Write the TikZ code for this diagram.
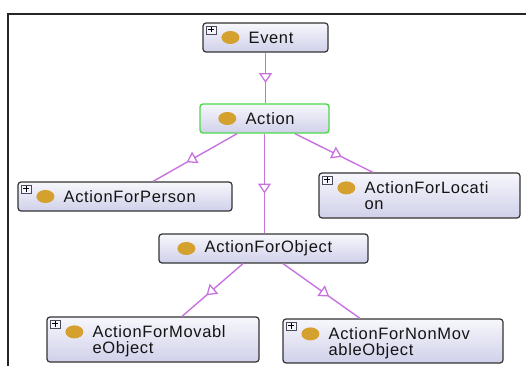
\documentclass[tikz,border=0pt]{standalone}
\usepackage{fontspec}
\setmainfont{Liberation Sans}[LetterSpace=4]
\usetikzlibrary{arrows.meta,decorations.markings,calc,shapes.geometric}
\definecolor{edgecol}{HTML}{C872E0}
\definecolor{boxborder}{HTML}{333333}
\definecolor{boxtop}{HTML}{F7F7FC}
\definecolor{boxbot}{HTML}{D0D0EA}
\definecolor{dotcol}{HTML}{D4A02E}
\definecolor{actgreen}{HTML}{4CD94C}
\definecolor{txtcol}{HTML}{141414}
\definecolor{plusborder}{HTML}{4A4A5A}
\begin{document}
\begin{tikzpicture}[x=1pt,y=-1pt,
  cls/.style={draw=boxborder, line width=1.2pt, rounded corners=3pt,
    top color=boxtop, bottom color=boxbot, inner sep=0pt},
  plusbox/.style={draw=plusborder, fill=blue!4, line width=0.6pt,
    minimum width=10pt, minimum height=8pt, inner sep=0pt},
  dot/.style={ellipse, fill=dotcol, minimum width=18pt, minimum height=13pt, inner sep=0pt},
  lbl/.style={inner sep=0pt, text=txtcol, font=\fontsize{16.5pt}{19pt}\selectfont},
  edge/.style={draw=edgecol, line width=1.4pt, postaction={decorate},
    decoration={markings, mark=at position 0.6 with
      {\arrow{Triangle[length=10pt,width=13pt,fill=white,line width=1.3pt]}}}}
]
\useasboundingbox (0,0) rectangle (526,366);
% frame
\draw[line width=2pt, black!85] (8,366) -- (8,14) -- (526,14);

% boxes
\node[cls, minimum width=125pt, minimum height=29pt] (event) at (265.5,37.5) {};
\node[cls, draw=actgreen, line width=1.4pt, minimum width=129pt, minimum height=29pt] (action) at (264.5,118.5) {};
\node[cls, minimum width=214pt, minimum height=29pt] (person) at (125,196.5) {};
\node[cls, minimum width=201pt, minimum height=45pt] (location) at (419.5,195.5) {};
\node[cls, minimum width=209pt, minimum height=29pt] (object) at (263.5,248.5) {};
\node[cls, minimum width=212pt, minimum height=45pt] (movable) at (153,339.5) {};
\node[cls, minimum width=220pt, minimum height=44pt] (nonmov) at (393,341) {};

% plus boxes
\foreach \b in {event,person,location,movable,nonmov}{
  \node[plusbox] (\b plus) at ([xshift=9pt,yshift=-7.5pt]\b.north west) {};
  \draw[line width=0.9pt, black] ([xshift=-3pt]\b plus.center) -- ([xshift=3pt]\b plus.center)
    ([yshift=-2.6pt]\b plus.center) -- ([yshift=2.6pt]\b plus.center);
}

% single-line contents
\foreach \b/\t in {event/Event,action/Action,person/ActionForPerson,object/ActionForObject}{
  \node[dot] (\b dot) at ([xshift=28pt]\b.west) {};
  \node[lbl, anchor=west] (\b txt) at ([xshift=46pt]\b.west) {\t};
}

% two-line contents
\foreach \b/\ta/\tb in {location/ActionForLocati/on,movable/ActionForMovabl/eObject,nonmov/ActionForNonMov/ableObject}{
  \node[dot] (\b dot) at ([xshift=28pt,yshift=-15.5pt]\b.north west) {};
  \node[lbl, anchor=base west] (\b txta) at ([xshift=46pt,yshift=-21pt]\b.north west) {\ta};
  \node[lbl, anchor=base west] (\b txtb) at ([yshift=-16.5pt]\b txta.base west) {\tb};
}

% connectors
\draw[edge] (event.south) -- (event.south |- action.north);
\draw[edge] ([xshift=-27.5pt]action.south) -- ([xshift=28pt]person.north);
\draw[edge] (action.south) -- (action.south |- object.north);
\draw[edge] ([xshift=30.5pt]action.south) -- ([xshift=-46.5pt]location.north);
\draw[edge] ([xshift=-20.5pt]object.south) -- ([xshift=29pt]movable.north);
\draw[edge] ([xshift=19.5pt]object.south) -- ([xshift=-33pt]nonmov.north);
\end{tikzpicture}
\end{document}
